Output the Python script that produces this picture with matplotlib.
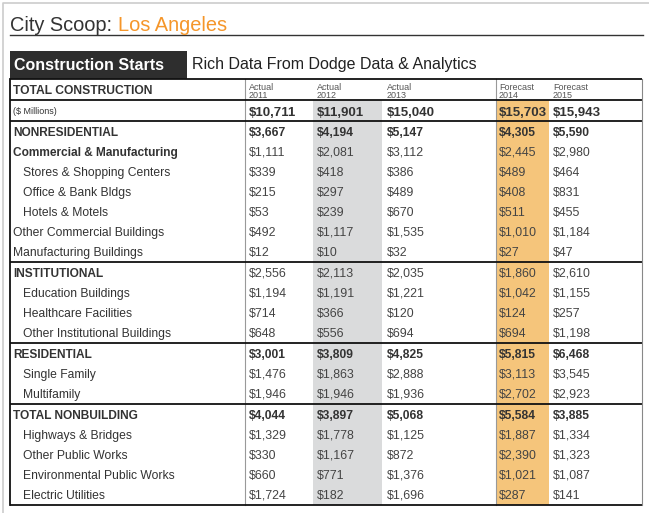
import matplotlib
matplotlib.use("Agg")
import matplotlib.pyplot as plt
from matplotlib.patches import Rectangle

plt.rcParams['font.family'] = ['Liberation Sans', 'DejaVu Sans']

# ---------------- data ----------------
city = "Los Angeles"
years = ["2011", "2012", "2013", "2014", "2015"]
kinds = ["Actual", "Actual", "Actual", "Forecast", "Forecast"]
total_construction = [10711, 11901, 15040, 15703, 15943]

categories = [
    "NONRESIDENTIAL",
    "Commercial & Manufacturing",
    "Stores & Shopping Centers",
    "Office & Bank Bldgs",
    "Hotels & Motels",
    "Other Commercial Buildings",
    "Manufacturing Buildings",
    "INSTITUTIONAL",
    "Education Buildings",
    "Healthcare Facilities",
    "Other Institutional Buildings",
    "RESIDENTIAL",
    "Single Family",
    "Multifamily",
    "TOTAL NONBUILDING",
    "Highways & Bridges",
    "Other Public Works",
    "Environmental Public Works",
    "Electric Utilities",
]

v2011 = [3667, 1111, 339, 215, 53, 492, 12, 2556, 1194, 714, 648, 3001, 1476, 1946, 4044, 1329, 330, 660, 1724]
v2012 = [4194, 2081, 418, 297, 239, 1117, 10, 2113, 1191, 366, 556, 3809, 1863, 1946, 3897, 1778, 1167, 771, 182]
v2013 = [5147, 3112, 386, 489, 670, 1535, 32, 2035, 1221, 120, 694, 4825, 2888, 1936, 5068, 1125, 872, 1376, 1696]
v2014 = [4305, 2445, 489, 408, 511, 1010, 27, 1860, 1042, 124, 694, 5815, 3113, 2702, 5584, 1887, 2390, 1021, 287]
v2015 = [5590, 2980, 464, 831, 455, 1184, 47, 2610, 1155, 257, 1198, 6468, 3545, 2923, 3885, 1334, 1323, 1087, 141]

columns = [v2011, v2012, v2013, v2014, v2015]

# structure (which rows are bold / indented, where sections end)
bold_label_rows = {0, 1, 7, 11, 14}
bold_value_rows = {0, 11, 14}
indented_rows = {2, 3, 4, 8, 9, 10, 12, 13, 15, 16, 17, 18}
section_starts = [7, 11, 14]

# ---------------- layout ----------------
W, H = 649, 513
fig = plt.figure(figsize=(W / 100, H / 100), dpi=100)
ax = fig.add_axes([0, 0, 1, 1])
ax.set_xlim(0, W)
ax.set_ylim(H, 0)
ax.axis('off')

dark = '#333333'
valcol = '#444444'
orange_txt = '#f5962a'
gray_fill = '#dadbdc'
orange_fill = '#f5c57b'
lw_black = 1.3
lw_gray = 0.8

# page frame
ax.plot([3, 3, W + 5], [H + 5, 2.5, 2.5], color='#cccccc', lw=1.2, solid_capstyle='butt')

# title
t1 = ax.text(10, 31, "City Scoop: ", fontsize=14.4, color=dark, va='baseline', ha='left')
fig.canvas.draw()
bb = t1.get_window_extent()
x_after = bb.x1
ax.text(x_after, 31, city, fontsize=14.4, color=orange_txt, va='baseline', ha='left')
ax.plot([9.5, 643], [35, 35], color=dark, lw=1.0)

# header box
ax.add_patch(Rectangle((9.5, 51), 177.5, 28, facecolor='#2e2e2e', edgecolor='none'))
ax.text(14.5, 69.5, "Construction Starts", fontsize=11.5, color='white', fontweight='bold', va='baseline')
ax.text(192.5, 69.5, "Rich Data From Dodge Data & Analytics", fontsize=11.55, color='#222222', va='baseline')

# table geometry
left, right = 10, 642
top = 79
hdr_bot = 100
tot_bot = 121
row_h = 20
label_sep = 244.5
col_x = [249, 317, 387, 499, 553]
fill_gray = (313, 382)
fill_orange = (496, 549)

n = len(categories)
centers = []
y = tot_bot
sep_lines = []
for i in range(n):
    if i in section_starts:
        sep_lines.append(y + 0.5)
        y += 1
    centers.append(y + row_h / 2 + 0.5)
    y += row_h
bottom = y + 1

# column fills
for (x0, x1), c in [(fill_gray, gray_fill), (fill_orange, orange_fill)]:
    ax.add_patch(Rectangle((x0, hdr_bot), x1 - x0, bottom - hdr_bot, facecolor=c, edgecolor='none', zorder=0))

# lines
for yy in [top, hdr_bot, tot_bot] + sep_lines + [bottom]:
    ax.plot([left, right], [yy, yy], color='#111111', lw=lw_black, solid_capstyle='butt', zorder=3)
ax.plot([left, left], [top, bottom], color='#111111', lw=lw_black, zorder=3)
ax.plot([right, right], [top, bottom], color='#888888', lw=lw_gray, zorder=3)
ax.plot([label_sep, label_sep], [top, bottom], color='#999999', lw=lw_gray, zorder=2)
ax.plot([fill_orange[0], fill_orange[0]], [top, bottom], color='#999999', lw=lw_gray, zorder=2)

# header row
ax.text(13, 93.5, "TOTAL CONSTRUCTION", fontsize=8.7, fontweight='bold', color=dark, va='baseline')
for x, k, yr in zip(col_x, kinds, years):
    ax.text(x, 90, k, fontsize=6.5, color='#555555', va='baseline')
    ax.text(x, 98.5, yr, fontsize=6.5, color='#555555', va='baseline')

# total row
ax.text(13, 114, "($ Millions)", fontsize=6.5, color=dark, va='baseline')
for x, v in zip(col_x, total_construction):
    ax.text(x, 115.5, f"${v:,}", fontsize=9.5, fontweight='bold', color=dark, va='baseline')

# body rows
for i, (cat, yc) in enumerate(zip(categories, centers)):
    base = yc + 4.3
    lx = 23 if i in indented_rows else 13
    isb = i in bold_label_rows
    ax.text(lx, base, cat, fontsize=8.6 if isb else 8.7, color=dark,
            fontweight='bold' if isb else 'normal', va='baseline')
    for x, col in zip(col_x, columns):
        bv = i in bold_value_rows
        ax.text(x, base, f"${col[i]:,}", fontsize=8.7 if bv else 8.9,
                color=dark if bv else valcol,
                fontweight='bold' if bv else 'normal', va='baseline')

fig.savefig("out.png", dpi=100)
